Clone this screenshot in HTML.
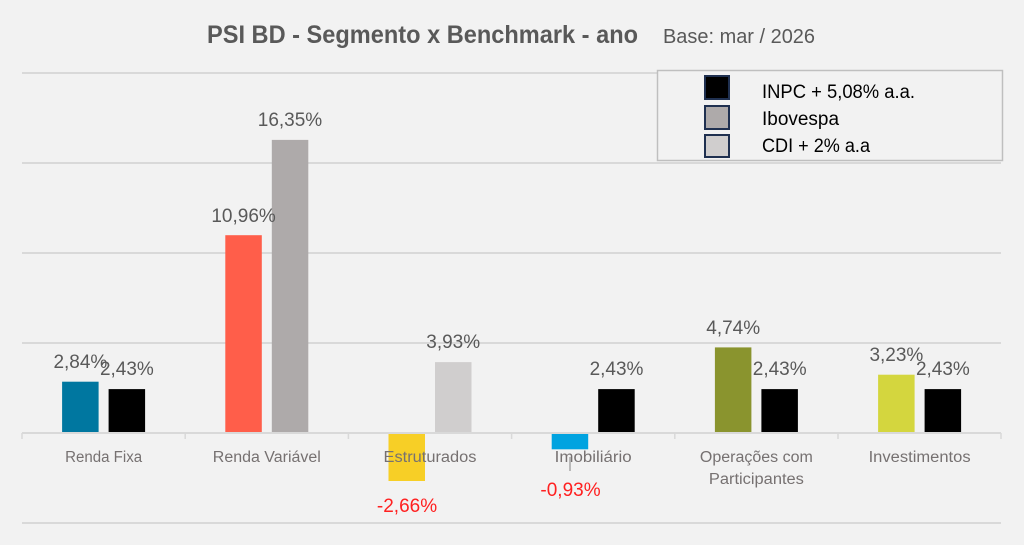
<!DOCTYPE html>
<html>
<head>
<meta charset="utf-8">
<style>
  html,body{margin:0;padding:0;background:#F2F2F2;}
  svg{display:block;}
  text{font-family:"Liberation Sans",Arial,sans-serif;}
</style>
</head>
<body>
<svg width="1024" height="545" viewBox="0 0 1024 545" xmlns="http://www.w3.org/2000/svg">
  <rect x="0" y="0" width="1024" height="545" fill="#F2F2F2"/>

  <!-- Title -->
  <text x="207" y="43" font-size="25" font-weight="bold" fill="#595959" textLength="431" lengthAdjust="spacingAndGlyphs">PSI BD - Segmento x Benchmark - ano</text>
  <text x="663" y="43" font-size="20" fill="#595959" textLength="152" lengthAdjust="spacingAndGlyphs">Base: mar / 2026</text>

  <!-- Gridlines -->
  <g stroke="#D9D9D9" stroke-width="2">
    <line x1="22" y1="73" x2="1001" y2="73"/>
    <line x1="22" y1="163" x2="1001" y2="163"/>
    <line x1="22" y1="253" x2="1001" y2="253"/>
    <line x1="22" y1="343" x2="1001" y2="343"/>
    <line x1="22" y1="523" x2="1001" y2="523"/>
  </g>

  <!-- Bars -->
  <!-- Renda Fixa -->
  <rect x="62.1" y="381.7" width="36.5" height="51.3" fill="#0077A0"/>
  <rect x="108.6" y="389.1" width="36.5" height="43.9" fill="#000000"/>
  <!-- Renda Variável -->
  <rect x="225.3" y="235.2" width="36.5" height="197.8" fill="#FF5E4A"/>
  <rect x="271.8" y="139.9" width="36.5" height="293.1" fill="#AEAAAA"/>
  <!-- Estruturados -->
  <rect x="388.5" y="433" width="36.5" height="48" fill="#F7CF26"/>
  <rect x="435" y="362.1" width="36.5" height="70.9" fill="#D0CECE"/>
  <!-- Imobiliário -->
  <rect x="551.7" y="433" width="36.5" height="16.3" fill="#00A3E0"/>
  <rect x="598.2" y="389.1" width="36.5" height="43.9" fill="#000000"/>
  <!-- Operações -->
  <rect x="714.9" y="347.4" width="36.5" height="85.6" fill="#8A942E"/>
  <rect x="761.4" y="389.1" width="36.5" height="43.9" fill="#000000"/>
  <!-- Investimentos -->
  <rect x="878.1" y="374.7" width="36.5" height="58.3" fill="#D4D63E"/>
  <rect x="924.6" y="389.1" width="36.5" height="43.9" fill="#000000"/>

  <!-- Axis -->
  <line x1="22" y1="433" x2="1001" y2="433" stroke="#D9D9D9" stroke-width="2"/>
  <g stroke="#D9D9D9" stroke-width="1.5">
    <line x1="22" y1="433" x2="22" y2="439"/>
    <line x1="185.2" y1="433" x2="185.2" y2="439"/>
    <line x1="348.4" y1="433" x2="348.4" y2="439"/>
    <line x1="511.6" y1="433" x2="511.6" y2="439"/>
    <line x1="674.8" y1="433" x2="674.8" y2="439"/>
    <line x1="838" y1="433" x2="838" y2="439"/>
    <line x1="1001" y1="433" x2="1001" y2="439"/>
  </g>

  <!-- Category labels -->
  <g font-size="15.5" fill="#767171" text-anchor="middle">
    <text x="103.6" y="462" textLength="77" lengthAdjust="spacingAndGlyphs">Renda Fixa</text>
    <text x="266.8" y="462" textLength="108" lengthAdjust="spacingAndGlyphs">Renda Variável</text>
    <text x="430" y="462" textLength="93" lengthAdjust="spacingAndGlyphs">Estruturados</text>
    <text x="593.2" y="462" textLength="77" lengthAdjust="spacingAndGlyphs">Imobiliário</text>
    <text x="756.4" y="462" textLength="113" lengthAdjust="spacingAndGlyphs">Operações com</text>
    <text x="756.4" y="484" textLength="95" lengthAdjust="spacingAndGlyphs">Participantes</text>
    <text x="919.6" y="462" textLength="102" lengthAdjust="spacingAndGlyphs">Investimentos</text>
  </g>

  <!-- leader line -->
  <line x1="570" y1="457" x2="570" y2="471" stroke="#A6A6A6" stroke-width="1.5"/>

  <!-- Data labels -->
  <g font-size="19" fill="#595959" text-anchor="middle">
    <text x="80.4" y="368">2,84%</text>
    <text x="126.9" y="375">2,43%</text>
    <text x="243.6" y="222">10,96%</text>
    <text x="290" y="126">16,35%</text>
    <text x="453.2" y="348">3,93%</text>
    <text x="616.5" y="375">2,43%</text>
    <text x="733.2" y="334">4,74%</text>
    <text x="779.7" y="375">2,43%</text>
    <text x="896.4" y="361">3,23%</text>
    <text x="942.9" y="375">2,43%</text>
  </g>
  <g font-size="19" fill="#FF2020" text-anchor="middle">
    <text x="407" y="512">-2,66%</text>
    <text x="570.5" y="496">-0,93%</text>
  </g>

  <!-- Legend -->
  <rect x="657.5" y="70.5" width="345" height="90" fill="#F2F2F2" stroke="#BFBFBF" stroke-width="1.5"/>
  <rect x="705" y="76" width="24" height="23" fill="#000000" stroke="#1F3050" stroke-width="2"/>
  <rect x="705" y="106" width="24" height="23" fill="#AEAAAA" stroke="#1F3050" stroke-width="2"/>
  <rect x="705" y="135" width="24" height="22" fill="#D0CECE" stroke="#1F3050" stroke-width="2"/>
  <g font-size="19" fill="#000000">
    <text x="762" y="98" textLength="153" lengthAdjust="spacingAndGlyphs">INPC + 5,08% a.a.</text>
    <text x="762" y="125" textLength="77" lengthAdjust="spacingAndGlyphs">Ibovespa</text>
    <text x="762" y="152" textLength="108" lengthAdjust="spacingAndGlyphs">CDI + 2% a.a</text>
  </g>
</svg>
</body>
</html>
